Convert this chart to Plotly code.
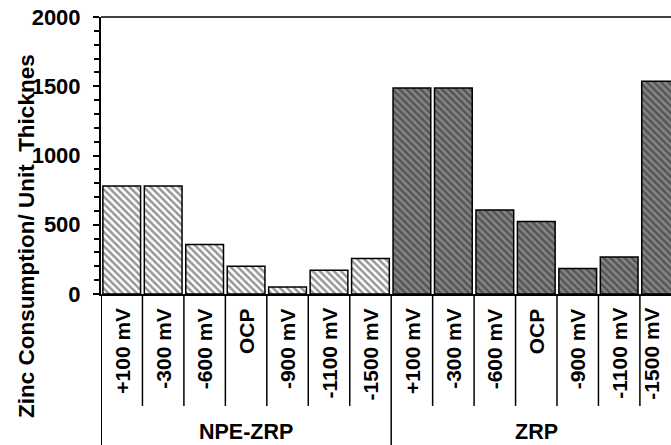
import plotly.graph_objects as go

# Data
potentials = ["+100 mV", "-300 mV", "-600 mV", "OCP", "-900 mV", "-1100 mV", "-1500 mV"]
groups = ["NPE-ZRP", "ZRP"]
npe_zrp = [780, 780, 358, 200, 51, 171, 256]
zrp = [1488, 1488, 606, 524, 184, 268, 1536]
y_ticks = [0, 500, 1000, 1500, 2000]

FONT = "Liberation Sans, Arial, sans-serif"
n = len(potentials)
x_npe = list(range(n))
x_zrp = list(range(n, 2 * n))
x_all = x_npe + x_zrp
x_max = 13.25  # right edge of the visible category range

fig = go.Figure()
fig.add_trace(go.Bar(
    x=x_npe, y=npe_zrp, name=groups[0],
    marker=dict(color="white", line=dict(color="black", width=1.5),
                pattern=dict(shape="\\", bgcolor="white", fgcolor="#2e2e2e",
                             size=5, solidity=0.5)),
))
fig.add_trace(go.Bar(
    x=x_zrp, y=zrp, name=groups[1],
    marker=dict(color="#7f7f7f", line=dict(color="black", width=1.5),
                pattern=dict(shape="\\", bgcolor="#858585", fgcolor="#262626",
                             size=5, solidity=0.5)),
))

shapes = []
# category dividers below the axis
for i in range(2 * n - 1):
    b = i + 0.5
    is_group = (i + 1) % n == 0
    shapes.append(dict(type="line", xref="x", yref="paper", x0=b, x1=b,
                       y0=0, y1=-0.545 if is_group else -0.404,
                       line=dict(color="black", width=1.5)))
shapes.append(dict(type="line", xref="x", yref="paper", x0=-0.5, x1=-0.5,
                   y0=0, y1=-0.545, line=dict(color="black", width=2)))
# top frame line
shapes.append(dict(type="line", xref="paper", yref="paper", x0=0, x1=1,
                   y0=1, y1=1, line=dict(color="#404040", width=2)))

# rotated category labels under each bar (pulled in when near the right edge)
annotations = [
    dict(text=f"<b>{lab}</b>", xref="x", yref="paper", x=xi, y=0, yshift=-12,
         xshift=-10 if xi + 0.5 > x_max else 0,
         textangle=-90, showarrow=False,
         font=dict(family=FONT, size=21, color="black"),
         xanchor="center", yanchor="top")
    for xi, lab in zip(x_all, potentials * 2)
]
# group labels
annotations += [
    dict(text=f"<b>{g}</b>", xref="x", yref="paper", x=(k * n) + (n - 1) / 2, y=-0.498,
         showarrow=False, font=dict(family=FONT, size=21.5, color="black"),
         xanchor="center", yanchor="middle")
    for k, g in enumerate(groups)
]
annotations.append(dict(
    text="<b>Zinc Consumption/ Unit  Thicknes</b>", xref="paper", yref="paper",
    x=-0.1316, y=0.209, textangle=-90, showarrow=False,
    font=dict(family=FONT, size=22.5, color="black"),
    xanchor="center", yanchor="middle"))

fig.update_layout(
    width=671, height=445,
    margin=dict(l=101, r=0, t=17, b=151),
    paper_bgcolor="white", plot_bgcolor="white",
    showlegend=False, bargap=0.09,
    shapes=shapes, annotations=annotations,
    font=dict(family=FONT, size=22, color="black"),
)
fig.update_xaxes(
    range=[-0.5, x_max], showticklabels=False, ticks="",
    showgrid=False, zeroline=False,
    showline=True, linecolor="black", linewidth=2,
)
fig.update_yaxes(
    range=[0, 2000], tickvals=y_ticks, ticktext=[f"<b>{v}</b>" for v in y_ticks],
    ticks="outside", ticklen=6,
    tickwidth=1.5, tickcolor="black", showgrid=False, zeroline=False,
    showline=True, linecolor="black", linewidth=2,
    tickfont=dict(family=FONT, size=22, color="black"),
    minor=dict(dtick=100, ticks="outside", ticklen=5, tickwidth=1.5,
               tickcolor="black", showgrid=False),
    ticklabelstandoff=8,
)

fig.write_html("out.html")
